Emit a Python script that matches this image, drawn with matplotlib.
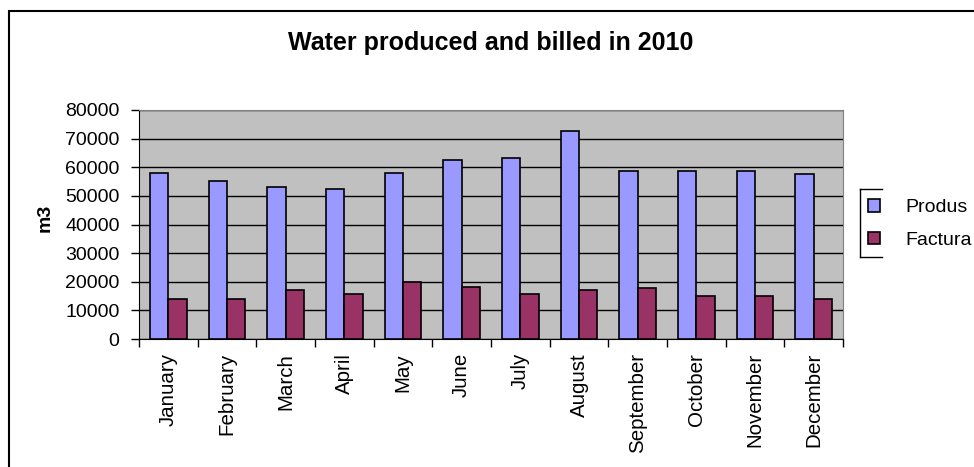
import numpy as np
import matplotlib
matplotlib.use("Agg")
import matplotlib.pyplot as plt
from matplotlib.patches import Rectangle
from matplotlib.lines import Line2D

plt.rcParams['font.family'] = ['Liberation Sans', 'DejaVu Sans']

months = ['January', 'February', 'March', 'April', 'May', 'June',
          'July', 'August', 'September', 'October', 'November', 'December']
produs = [58100, 55300, 53100, 52500, 58100, 62500,
          63100, 72800, 58700, 58700, 58700, 57500]
facturat = [13900, 13900, 17200, 15600, 20000, 18300,
            15600, 17200, 17700, 15000, 15000, 13900]
series_names = ['Produs', 'Factura']
y_ticks = [0, 10000, 20000, 30000, 40000, 50000, 60000, 70000, 80000]

W, H = 974, 467
fig = plt.figure(figsize=(W / 100, H / 100), dpi=100, facecolor='white')
ax = fig.add_axes([139 / W, 1 - 339 / H, (843 - 139) / W, (339 - 110) / H])
ax.set_facecolor('#C0C0C0')

x = np.arange(len(months))
bw = 0.31
b1 = ax.bar(x - bw / 2, produs, bw, color='#9999FF', edgecolor='black', linewidth=1.2, zorder=3)
b2 = ax.bar(x + bw / 2, facturat, bw, color='#993366', edgecolor='black', linewidth=1.2, zorder=3)

ax.set_xlim(-0.5, len(months) - 0.5)
ax.set_ylim(0, 80000)
ax.set_yticks(y_ticks)
ax.set_yticklabels([str(v) for v in y_ticks], fontsize=14)
ax.yaxis.grid(True, color='black', linewidth=1, zorder=1)
ax.set_axisbelow(True)

# month labels centred in each slot, ticks on the slot boundaries
ax.set_xticks(x)
ax.set_xticklabels(months, rotation=90, fontsize=14.8)
ax.tick_params(axis='x', length=0, pad=10)
ax.set_xticks(np.arange(len(months) + 1) - 0.5, minor=True)
ax.tick_params(axis='x', which='minor', length=6, width=1, direction='out', color='black')
ax.tick_params(axis='y', length=6, width=1, direction='out', pad=8)

ax.spines['top'].set_color('#808080')
ax.spines['right'].set_color('#808080')
ax.spines['left'].set_color('black')
ax.spines['bottom'].set_color('black')

ax.set_ylabel('m3', fontsize=14, fontweight='bold')
ax.yaxis.set_label_coords(-0.121, 0.53)
fig.text(491 / W, 1 - 43 / H, 'Water produced and billed in 2010',
         ha='center', va='center', fontsize=18, fontweight='bold')

leg = fig.legend([b1, b2], series_names, loc='upper left',
                 bbox_to_anchor=(868 / W, 1 - 199 / H), frameon=False,
                 fontsize=14, handlelength=0.62, handleheight=0.62,
                 handletextpad=1.3, labelspacing=0.8, borderpad=0, borderaxespad=0)

# legend bracket and outer chart border
bx0, bx1, by0, by1 = 860, 882, 189, 257
for xs, ys in [((bx0, bx0), (by0, by1)), ((bx0, bx1), (by0, by0)), ((bx0, bx1), (by1, by1))]:
    fig.add_artist(Line2D([v / W for v in xs], [1 - v / H for v in ys],
                          color='black', linewidth=1, transform=fig.transFigure))
fig.add_artist(Rectangle((8.5 / W, -0.1), 1.2, 1.1 - 10.5 / H, transform=fig.transFigure,
                         fill=False, edgecolor='black', linewidth=1.5))

fig.savefig('out.png', dpi=100)
